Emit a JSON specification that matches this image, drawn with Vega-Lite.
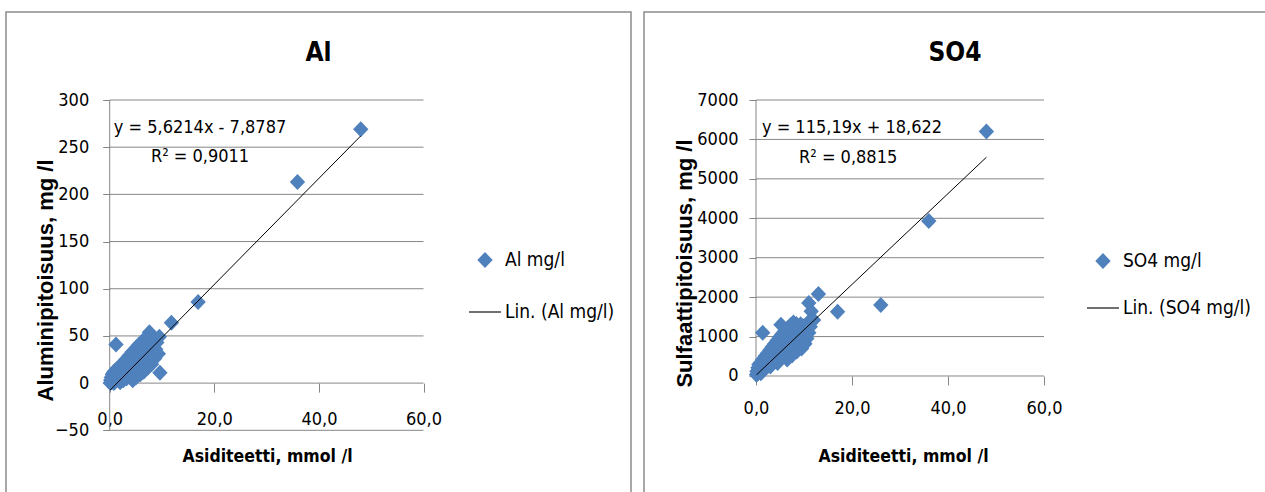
{
  "$schema": "https://vega.github.io/schema/vega-lite/v6.json",
  "padding": {"left": 5, "top": 11, "right": 0, "bottom": 0},
  "autosize": {"type": "pad"},
  "spacing": 13,
  "bounds": "flush",
  "resolve": {"scale": {"color": "independent", "shape": "independent"}, "legend": {"color": "independent", "shape": "independent"}},
  "datasets": {
    "al": [
      {"x":0.1,"y":0},{"x":0.2,"y":3},{"x":0.3,"y":6},{"x":0.4,"y":1},{"x":0.5,"y":9},{"x":0.6,"y":4},{"x":0.7,"y":11},{"x":0.8,"y":0},{"x":0.9,"y":7},{"x":1.0,"y":13},
      {"x":1.1,"y":2},{"x":1.2,"y":9},{"x":1.2,"y":41},{"x":1.4,"y":15},{"x":1.5,"y":5},{"x":1.7,"y":11},{"x":1.9,"y":18},{"x":2.0,"y":1},{"x":2.1,"y":7},{"x":2.3,"y":14},
      {"x":2.5,"y":21},{"x":2.6,"y":3},{"x":2.8,"y":10},{"x":3.0,"y":17},{"x":3.1,"y":25},{"x":3.2,"y":5},{"x":3.4,"y":12},{"x":3.5,"y":20},{"x":3.7,"y":29},{"x":3.8,"y":7},
      {"x":4.0,"y":16},{"x":4.1,"y":24},{"x":4.3,"y":33},{"x":4.4,"y":3},{"x":4.5,"y":11},{"x":4.6,"y":20},{"x":4.8,"y":28},{"x":5.0,"y":37},{"x":5.0,"y":6},{"x":5.2,"y":15},
      {"x":5.3,"y":24},{"x":5.5,"y":32},{"x":5.6,"y":41},{"x":5.8,"y":9},{"x":6.0,"y":18},{"x":6.1,"y":27},{"x":6.2,"y":36},{"x":6.4,"y":45},{"x":6.5,"y":12},{"x":6.6,"y":22},
      {"x":6.8,"y":31},{"x":7.0,"y":40},{"x":7.1,"y":49},{"x":7.2,"y":16},{"x":7.4,"y":25},{"x":7.5,"y":35},{"x":7.6,"y":54},{"x":7.8,"y":44},{"x":8.0,"y":20},{"x":8.1,"y":30},
      {"x":8.2,"y":39},{"x":8.4,"y":48},{"x":8.6,"y":26},{"x":8.8,"y":36},{"x":9.0,"y":43},{"x":9.5,"y":49},{"x":9.6,"y":11},{"x":9.3,"y":31},{"x":11.8,"y":64},{"x":16.9,"y":86},
      {"x":35.9,"y":213},{"x":48.0,"y":269}
    ],
    "alTrend": [{"x":0.1,"y":-7.32},{"x":48.0,"y":261.95}],
    "so4": [
      {"x":0.1,"y":30},{"x":0.2,"y":120},{"x":0.3,"y":60},{"x":0.4,"y":210},{"x":0.5,"y":100},{"x":0.6,"y":290},{"x":0.8,"y":160},{"x":1.0,"y":340},{"x":1.0,"y":70},{"x":1.2,"y":230},
      {"x":1.4,"y":1100},{"x":1.4,"y":420},{"x":1.5,"y":140},{"x":1.7,"y":310},{"x":1.9,"y":500},{"x":2.0,"y":210},{"x":2.2,"y":390},{"x":2.4,"y":580},{"x":2.5,"y":260},{"x":2.7,"y":460},
      {"x":2.9,"y":660},{"x":3.0,"y":240},{"x":3.2,"y":530},{"x":3.4,"y":740},{"x":3.5,"y":360},{"x":3.7,"y":610},{"x":3.9,"y":820},{"x":4.0,"y":410},{"x":4.2,"y":690},{"x":4.4,"y":900},
      {"x":4.5,"y":330},{"x":4.7,"y":760},{"x":4.9,"y":980},{"x":5.0,"y":510},{"x":5.2,"y":1300},{"x":5.2,"y":830},{"x":5.4,"y":1060},{"x":5.6,"y":590},{"x":5.8,"y":910},{"x":6.0,"y":1140},
      {"x":6.2,"y":660},{"x":6.4,"y":990},{"x":6.5,"y":420},{"x":6.6,"y":1210},{"x":6.8,"y":730},{"x":7.0,"y":1060},{"x":7.2,"y":1290},{"x":7.4,"y":810},{"x":7.5,"y":520},{"x":7.6,"y":1130},
      {"x":7.8,"y":1360},{"x":8.0,"y":890},{"x":8.2,"y":1190},{"x":8.4,"y":1320},{"x":8.5,"y":620},{"x":8.6,"y":970},{"x":8.8,"y":1240},{"x":9.0,"y":1060},{"x":9.3,"y":1310},{"x":9.5,"y":700},
      {"x":9.6,"y":1150},{"x":10.0,"y":1260},{"x":10.2,"y":820},{"x":10.4,"y":1200},{"x":10.6,"y":950},{"x":10.8,"y":1350},{"x":11.0,"y":1100},{"x":11.0,"y":1850},{"x":11.3,"y":1250},{"x":11.5,"y":1640},
      {"x":12.0,"y":1420},{"x":13.0,"y":2080},{"x":17.0,"y":1630},{"x":26.0,"y":1800},{"x":36.0,"y":3930},{"x":48.0,"y":6200}
    ],
    "so4Trend": [{"x":0.1,"y":30.1},{"x":48.0,"y":5547.7}],
    "gridAl": [{"v":-50},{"v":0},{"v":50},{"v":100},{"v":150},{"v":200},{"v":250},{"v":300}],
    "gridSo4": [{"v":0},{"v":1000},{"v":2000},{"v":3000},{"v":4000},{"v":5000},{"v":6000},{"v":7000}],
    "one": [{}]
  },
  "hconcat": [
    {
      "width": 625,
      "height": 481,
      "layer": [
        {
          "data": {"name": "gridAl"},
          "mark": {"type": "rule", "color": "#868686", "strokeWidth": 1},
          "encoding": {
            "y": {"field": "v", "type": "quantitative", "scale": {"domain": [-116.44, 393.25], "nice": false, "zero": false}},
            "x": {"datum": 0, "type": "quantitative", "scale": {"domain": [-19.83, 99.67], "nice": false, "zero": false}},
            "x2": {"datum": 60}
          }
        },
        {
          "data": {"name": "one"},
          "mark": {"type": "rule", "color": "#868686", "strokeWidth": 1},
          "encoding": {
            "x": {"datum": 0, "type": "quantitative"},
            "y": {"datum": -50, "type": "quantitative"},
            "y2": {"datum": 300}
          }
        },
        {
          "data": {"name": "al"},
          "mark": {"type": "point", "filled": true, "size": 1024, "opacity": 1, "strokeWidth": 0},
          "encoding": {
            "x": {"field": "x", "type": "quantitative", "scale": {"domain": [-19.83, 99.67], "nice": false, "zero": false},
              "axis": {"values": [0, 20, 40, 60], "orient": "bottom", "offset": -109.89, "tickSize": 9, "labelPadding": 18, "labelBaseline": "top",
                "labelExpr": "replace(format(datum.value, '.1f'), '.', ',')",
                "title": "Asiditeetti, mmol /l", "titleX": 261, "titleY": 73, "titleBaseline": "middle", "titleAlign": "center"}},
            "y": {"field": "y", "type": "quantitative", "scale": {"domain": [-116.44, 393.25], "nice": false, "zero": false},
              "axis": {"values": [-50, 0, 50, 100, 150, 200, 250, 300], "orient": "left", "offset": -103.7, "tickSize": 7, "labelPadding": 14, "format": "d",
                "title": "Aluminipitoisuus, mg /l", "titleX": -64, "titleY": 268, "titleAngle": -90, "titleBaseline": "middle", "titleAlign": "center",
                "titleFont": "Liberation Sans, Arial, sans-serif", "titleFontSize": 22}},
            "color": {"datum": "Al mg/l", "type": "nominal",
              "scale": {"domain": ["Al mg/l", "Lin. (Al mg/l)"], "range": ["#4F81BD", "#000000"]},
              "legend": {"orient": "none", "legendX": 462, "legendY": 231, "title": null, "symbolSize": 1024, "labelOffset": 3, "rowPadding": 24, "padding": 0}},
            "shape": {"datum": "Al mg/l", "type": "nominal",
              "scale": {"domain": ["Al mg/l", "Lin. (Al mg/l)"], "range": ["M-0.48,0L0,-0.5L0.48,0L0,0.5Z", "M-1,-0.035L1,-0.035L1,0.035L-1,0.035Z"]},
              "legend": {"orient": "none", "legendX": 462, "legendY": 231, "title": null, "symbolSize": 1024, "labelOffset": 3, "rowPadding": 24, "padding": 0}}
          }
        },
        {
          "data": {"name": "alTrend"},
          "mark": {"type": "line", "strokeWidth": 1, "color": "#000000"},
          "encoding": {
            "x": {"field": "x", "type": "quantitative"},
            "y": {"field": "y", "type": "quantitative"}
          }
        },
        {
          "data": {"name": "one"},
          "mark": {"type": "text", "text": "Al", "fontSize": 26, "fontWeight": "bold", "align": "center", "baseline": "middle", "color": "#000000"},
          "encoding": {
            "x": {"datum": 39.92, "type": "quantitative"},
            "y": {"datum": 349.8, "type": "quantitative"}
          }
        },
        {
          "data": {"name": "one"},
          "mark": {"type": "text", "text": "y = 5,6214x - 7,8787", "fontSize": 18, "align": "center", "baseline": "middle", "color": "#000000"},
          "encoding": {
            "x": {"datum": 17.27, "type": "quantitative"},
            "y": {"datum": 270.3, "type": "quantitative"}
          }
        },
        {
          "data": {"name": "one"},
          "mark": {"type": "text", "text": "R² = 0,9011", "fontSize": 18, "align": "center", "baseline": "middle", "color": "#000000"},
          "encoding": {
            "x": {"datum": 17.27, "type": "quantitative"},
            "y": {"datum": 239.6, "type": "quantitative"}
          }
        }
      ]
    },
    {
      "width": 622,
      "height": 481,
      "layer": [
        {
          "data": {"name": "gridSo4"},
          "mark": {"type": "rule", "color": "#868686", "strokeWidth": 1},
          "encoding": {
            "y": {"field": "v", "type": "quantitative", "scale": {"domain": [-2967.4, 9231.9], "nice": false, "zero": false}},
            "x": {"datum": 0, "type": "quantitative", "scale": {"domain": [-23.333, 106.25], "nice": false, "zero": false}},
            "x2": {"datum": 60}
          }
        },
        {
          "data": {"name": "one"},
          "mark": {"type": "rule", "color": "#868686", "strokeWidth": 1},
          "encoding": {
            "x": {"datum": 0, "type": "quantitative"},
            "y": {"datum": 0, "type": "quantitative"},
            "y2": {"datum": 7000}
          }
        },
        {
          "data": {"name": "so4"},
          "mark": {"type": "point", "filled": true, "size": 1024, "opacity": 1, "strokeWidth": 0},
          "encoding": {
            "x": {"field": "x", "type": "quantitative", "scale": {"domain": [-23.333, 106.25], "nice": false, "zero": false},
              "axis": {"values": [0, 20, 40, 60], "orient": "bottom", "offset": -117, "tickSize": 9, "labelPadding": 14, "labelBaseline": "top",
                "labelExpr": "replace(format(datum.value, '.1f'), '.', ',')",
                "title": "Asiditeetti, mmol /l", "titleX": 259, "titleY": 80, "titleBaseline": "middle", "titleAlign": "center"}},
            "y": {"field": "y", "type": "quantitative", "scale": {"domain": [-2967.4, 9231.9], "nice": false, "zero": false},
              "axis": {"values": [0, 1000, 2000, 3000, 4000, 5000, 6000, 7000], "orient": "left", "offset": -112, "tickSize": 7, "labelPadding": 11, "format": "d",
                "title": "Sulfaattipitoisuus, mg /l", "titleX": -72, "titleY": 251, "titleAngle": -90, "titleBaseline": "middle", "titleAlign": "center",
                "titleFont": "Liberation Sans, Arial, sans-serif", "titleFontSize": 22}},
            "color": {"datum": "SO4 mg/l", "type": "nominal",
              "scale": {"domain": ["SO4 mg/l", "Lin. (SO4 mg/l)"], "range": ["#4F81BD", "#000000"]},
              "legend": {"orient": "none", "legendX": 442, "legendY": 232, "title": null, "symbolSize": 1024, "labelOffset": 3, "rowPadding": 19, "padding": 0}},
            "shape": {"datum": "SO4 mg/l", "type": "nominal",
              "scale": {"domain": ["SO4 mg/l", "Lin. (SO4 mg/l)"], "range": ["M-0.48,0L0,-0.5L0.48,0L0,0.5Z", "M-1,-0.035L1,-0.035L1,0.035L-1,0.035Z"]},
              "legend": {"orient": "none", "legendX": 442, "legendY": 232, "title": null, "symbolSize": 1024, "labelOffset": 3, "rowPadding": 19, "padding": 0}}
          }
        },
        {
          "data": {"name": "so4Trend"},
          "mark": {"type": "line", "strokeWidth": 1, "color": "#000000"},
          "encoding": {
            "x": {"field": "x", "type": "quantitative"},
            "y": {"field": "y", "type": "quantitative"}
          }
        },
        {
          "data": {"name": "one"},
          "mark": {"type": "text", "text": "SO4", "fontSize": 26, "fontWeight": "bold", "align": "center", "baseline": "middle", "color": "#000000"},
          "encoding": {
            "x": {"datum": 41.46, "type": "quantitative"},
            "y": {"datum": 8192, "type": "quantitative"}
          }
        },
        {
          "data": {"name": "one"},
          "mark": {"type": "text", "text": "y = 115,19x + 18,622", "fontSize": 18, "align": "center", "baseline": "middle", "color": "#000000"},
          "encoding": {
            "x": {"datum": 20.0, "type": "quantitative"},
            "y": {"datum": 6290, "type": "quantitative"}
          }
        },
        {
          "data": {"name": "one"},
          "mark": {"type": "text", "text": "R² = 0,8815", "fontSize": 18, "align": "center", "baseline": "middle", "color": "#000000"},
          "encoding": {
            "x": {"datum": 19.2, "type": "quantitative"},
            "y": {"datum": 5529, "type": "quantitative"}
          }
        }
      ]
    }
  ],
  "config": {
    "font": "DejaVu Sans Condensed, sans-serif",
    "view": {"stroke": "#8c8c8c", "strokeWidth": 1.5},
    "axis": {
      "domain": false, "grid": false,
      "tickColor": "#868686", "tickWidth": 1,
      "labelFontSize": 18, "labelColor": "#000000",
      "titleFontSize": 17.5, "titleFontWeight": "bold", "titleColor": "#000000"
    },
    "legend": {"labelFontSize": 19, "labelColor": "#000000", "labelLimit": 300, "symbolOpacity": 1},
    "text": {"font": "DejaVu Sans Condensed, sans-serif"}
  }
}
